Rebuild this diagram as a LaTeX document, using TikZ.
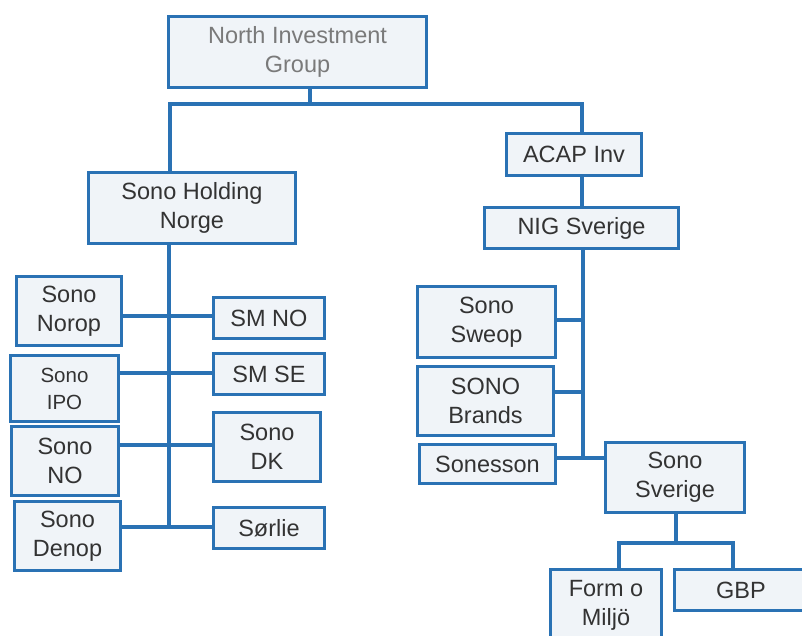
\documentclass[tikz,border=0pt]{standalone}
\usepackage{fontspec}
\setmainfont{Liberation Sans}
\definecolor{bord}{HTML}{2A72B4}
\definecolor{boxfill}{HTML}{F0F4F8}
\definecolor{txt}{HTML}{333333}
\definecolor{gtxt}{HTML}{7A7A7A}
\tikzset{
  box/.style={rectangle, draw=bord, fill=boxfill, line width=3pt, inner sep=0pt,
    align=center, text=txt, font=\fontsize{23.5}{29}\selectfont},
  conn/.style={draw=bord, line width=3.5pt},
}
\begin{document}
\begin{tikzpicture}[x=1pt,y=-1pt]
\useasboundingbox (0,0) rectangle (802,636);
\clip (0,0) rectangle (802,636);
\fill[white] (0,0) rectangle (802,636);

% boxes
\node[box, minimum width=258, minimum height=71, text=gtxt] (nig) at (297.5,52) {North Investment\\Group};
\node[box, minimum width=207, minimum height=71] (holding) at (192,208) {Sono Holding\\Norge};
\node[box, minimum width=135, minimum height=42] (acap) at (574,154.5) {ACAP Inv};
\node[box, minimum width=194, minimum height=41] (nigse) at (581.5,228) {NIG Sverige};
\node[box, minimum width=105, minimum height=69] (norop) at (69,311) {Sono\\Norop};
\node[box, minimum width=108, minimum height=66, font=\fontsize{20.5}{27}\selectfont] (ipo) at (64.5,388.5) {Sono\\IPO};
\node[box, minimum width=107, minimum height=69] (sno) at (65,461) {Sono\\NO};
\node[box, minimum width=106, minimum height=69] (denop) at (67.5,536) {Sono\\Denop};
\node[box, minimum width=111, minimum height=41] (smno) at (269,318) {SM NO};
\node[box, minimum width=111, minimum height=41] (smse) at (269,374) {SM SE};
\node[box, minimum width=107, minimum height=69] (dk) at (267,447) {Sono\\DK};
\node[box, minimum width=111, minimum height=41] (sorlie) at (269,528) {Sørlie};
\node[box, minimum width=138, minimum height=71] (sweop) at (486.5,322) {Sono\\Sweop};
\node[box, minimum width=136, minimum height=69] (brands) at (485.5,401) {SONO\\Brands};
\node[box, minimum width=136, minimum height=39] (sonesson) at (487.5,464) {Sonesson};
\node[box, minimum width=139, minimum height=70] (sverige) at (675,477.5) {Sono\\Sverige};
\node[box, minimum width=111, minimum height=72] (form) at (606,605) {Form o\\Miljö};
\node[box, minimum width=134, minimum height=41] (gbp) at (741,590) {GBP};

% junction / routing coordinates
\coordinate (j1) at (310,104);
\coordinate (jl) at (170,104);
\coordinate (jr) at (582,104);
\coordinate (r1) at (169,316);
\coordinate (r2) at (169,373);
\coordinate (r3) at (169,445);
\coordinate (r4) at (169,527);
\coordinate (s1) at (583,320);
\coordinate (s2) at (583,392);
\coordinate (s3) at (583,458);
\coordinate (t0) at (676,543);
\coordinate (tl) at (619,543);
\coordinate (tr) at (733,543);

% connectors
\draw[conn] (nig.south -| j1) -- (j1);
\draw[conn] (holding.north -| jl) -- (jl) -- (jr) -- (acap.north -| jr);
\draw[conn] (acap.south -| jr) -- (nigse.north -| jr);
\draw[conn] (holding.south -| r1) -- (r4);
\draw[conn] (norop.east |- r1) -- (smno.west |- r1);
\draw[conn] (ipo.east |- r2) -- (smse.west |- r2);
\draw[conn] (sno.east |- r3) -- (dk.west |- r3);
\draw[conn] (denop.east |- r4) -- (sorlie.west |- r4);
\draw[conn] (nigse.south -| s1) -- (s3);
\draw[conn] (sweop.east |- s1) -- (s1);
\draw[conn] (brands.east |- s2) -- (s2);
\draw[conn] (sonesson.east |- s3) -- (s3) -- (sverige.west |- s3);
\draw[conn] (sverige.south -| t0) -- (t0);
\draw[conn] (form.north -| tl) -- (tl) -- (tr) -- (gbp.north -| tr);
\end{tikzpicture}
\end{document}
